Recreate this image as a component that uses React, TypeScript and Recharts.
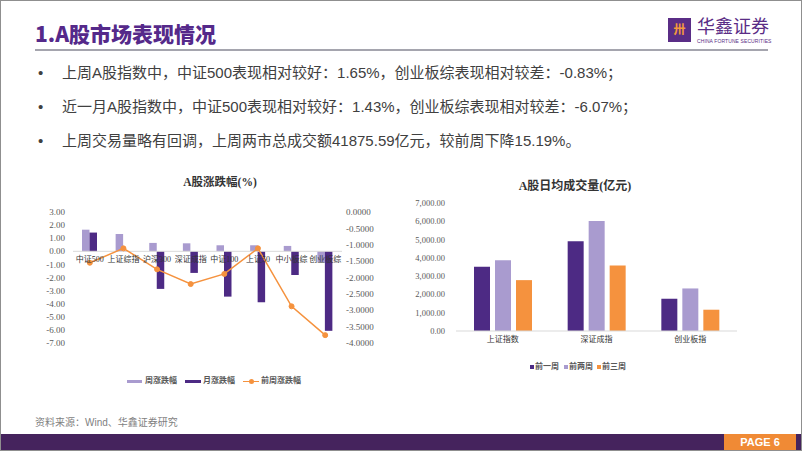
import React from 'react';
import { ComposedChart, BarChart, Bar, Line, XAxis, YAxis, ReferenceLine } from 'recharts';

// ---------- data ----------
const indexNames = ['中证500', '上证综指', '沪深300', '深证成指', '中证100', '上证50', '中小板综', '创业板综'];
const weekChange = [1.65, 1.32, 0.64, 0.61, 0.46, 0.46, 0.41, -0.83];
const monthChange = [1.43, 0.02, -2.87, -1.65, -3.46, -3.89, -1.81, -6.07];
const prevWeekChange = [-1.55, -1.11, -1.75, -2.2, -1.89, -1.11, -2.88, -3.76];
const leftSeriesNames = ['周涨跌幅', '月涨跌幅', '前周涨跌幅'];
const leftTicks = [3, 2, 1, 0, -1, -2, -3, -4, -5, -6, -7];
const rightTicksPct = [0, -0.5, -1, -1.5, -2, -2.5, -3, -3.5, -4];

const volumeIndexes = ['上证指数', '深证成指', '创业板指'];
const volWeek1 = [3508, 4909, 1764];
const volWeek2 = [3873, 6018, 2327];
const volWeek3 = [2782, 3582, 1164];
const volSeriesNames = ['前一周', '前两周', '前三周'];
const volTicks = [0, 1000, 2000, 3000, 4000, 5000, 6000, 7000];

const bullets = [
  '上周A股指数中，中证500表现相对较好：1.65%，创业板综表现相对较差：-0.83%；',
  '近一月A股指数中，中证500表现相对较好：1.43%，创业板综表现相对较差：-6.07%；',
  '上周交易量略有回调，上周两市总成交额41875.59亿元，较前周下降15.19%。',
];

// ---------- styles ----------
const LIGHT = '#A99BCF';
const DARK = '#4D2A84';
const ORANGE = '#F5923E';
const PURPLE = '#55298A';
const SERIF = '"Liberation Serif", "Noto Sans CJK SC", serif';
const SANS = '"Liberation Sans", "Noto Sans CJK SC", sans-serif';

const leftData = indexNames.map((name, i) => ({
  name,
  week: weekChange[i],
  month: monthChange[i],
  prevWeek: prevWeekChange[i],
}));

const volData = volumeIndexes.map((name, i) => ({
  name,
  w1: volWeek1[i],
  w2: volWeek2[i],
  w3: volWeek3[i],
}));

// left chart geometry
const L_W = 360;
const L_H = 155;
const L_MARGIN = { top: 12, right: 0, bottom: 0, left: 0 };
const L_XAXIS_H = 12;
const L_PLOT_H = L_H - L_MARGIN.top - L_MARGIN.bottom - L_XAXIS_H;
const L_MIN = -7;
const L_MAX = 3;

const ZeroTick = (props: any) => {
  const { x, y, payload } = props;
  const shift = (L_PLOT_H * (0 - L_MIN)) / (L_MAX - L_MIN);
  return (
    <text x={x} y={y - shift + 11} textAnchor="middle" fontSize={8} fill="#333" fontFamily={SERIF}>
      {payload.value}
    </text>
  );
};

const fmtThousands = (v: number) => {
  const s = Math.round(v).toString().replace(/\B(?=(\d{3})+(?!\d))/g, ',');
  return s + '.00';
};

const abs = (l: number, t: number, extra: React.CSSProperties = {}): React.CSSProperties => ({
  position: 'absolute',
  left: l,
  top: t,
  ...extra,
});

export default function App() {
  return (
    <div style={{ position: 'absolute', left: 0, top: 0, width: 802, height: 451, background: '#fff', overflow: 'hidden', fontFamily: SANS }}>
      {/* header */}
      <div style={abs(35, 19, { fontSize: 21, fontWeight: 900, color: PURPLE, lineHeight: '28px', whiteSpace: 'nowrap', fontFamily: '"Noto Sans CJK SC", sans-serif' })}>
        1.A股市场表现情况
      </div>
      <div style={abs(668, 18, { width: 23, height: 24, background: '#5A2D86', color: '#F39A3C', fontSize: 12, lineHeight: '24px', textAlign: 'center', fontWeight: 700 })}>卅</div>
      <div style={abs(697, 15, { fontSize: 18, color: '#5A2D86', lineHeight: '21px', whiteSpace: 'nowrap', fontFamily: '"Noto Sans CJK SC", sans-serif' })}>华鑫证券</div>
      <div style={abs(697, 38, { fontSize: 5, color: '#5A2D86', lineHeight: '6px', whiteSpace: 'nowrap', letterSpacing: 0.1 })}>CHINA FORTUNE SECURITIES</div>
      <div style={abs(35, 49, { width: 733, height: 2, background: '#A5A5AE' })} />

      {/* bullets */}
      {bullets.map((b, i) => (
        <div key={i} style={abs(38, 62 + i * 34, { fontSize: 15, lineHeight: '22px', color: '#404040', whiteSpace: 'nowrap' })}>
          <span style={{ display: 'inline-block', width: 24 }}>•</span>
          {b}
        </div>
      ))}

      {/* left chart */}
      <div style={abs(150, 174, { width: 140, textAlign: 'center', fontSize: 11.5, fontWeight: 700, color: '#333', fontFamily: SERIF, lineHeight: '16px' })}>
        A股涨跌幅(%)
      </div>
      <div style={abs(30, 200)}>
        <ComposedChart width={L_W} height={L_H} data={leftData} margin={L_MARGIN} barGap={0}>
          <XAxis
            dataKey="name"
            axisLine={false}
            tickLine={false}
            height={L_XAXIS_H}
            tickSize={0}
            tickMargin={0}
            interval={0}
            tick={<ZeroTick />}
          />
          <YAxis
            yAxisId="left"
            width={43}
            domain={[L_MIN, L_MAX]}
            ticks={leftTicks}
            axisLine={false}
            tickLine={false}
            tick={{ fontSize: 9, fill: '#595959', fontFamily: SERIF }}
            tickFormatter={(v: number) => v.toFixed(2)}
            interval={0}
          />
          <YAxis
            yAxisId="right"
            orientation="right"
            width={48}
            domain={[-4, 0]}
            ticks={rightTicksPct}
            axisLine={false}
            tickLine={false}
            tickSize={2}
            tickMargin={2}
            tick={{ fontSize: 9, fill: '#595959', fontFamily: SERIF }}
            tickFormatter={(v: number) => v.toFixed(4)}
            interval={0}
          />
          <ReferenceLine yAxisId="left" y={0} stroke="#D9D9D9" strokeWidth={1} />
          <Bar yAxisId="left" dataKey="week" name={leftSeriesNames[0]} fill={LIGHT} barSize={7.5} isAnimationActive={false} />
          <Bar yAxisId="left" dataKey="month" name={leftSeriesNames[1]} fill={DARK} barSize={7.5} isAnimationActive={false} />
          <Line
            yAxisId="right"
            dataKey="prevWeek"
            name={leftSeriesNames[2]}
            stroke={ORANGE}
            strokeWidth={1.5}
            dot={{ r: 2.5, fill: ORANGE, stroke: ORANGE, strokeWidth: 1 }}
            isAnimationActive={false}
          />
        </ComposedChart>
      </div>
      {/* left legend */}
      <div style={abs(127, 380, { width: 15, height: 3, background: LIGHT })} />
      <div style={abs(145, 375, { fontSize: 8, lineHeight: '12px', color: '#595959', fontWeight: 700, whiteSpace: 'nowrap' })}>{leftSeriesNames[0]}</div>
      <div style={abs(185, 380, { width: 16, height: 3, background: DARK })} />
      <div style={abs(203, 375, { fontSize: 8, lineHeight: '12px', color: '#595959', fontWeight: 700, whiteSpace: 'nowrap' })}>{leftSeriesNames[1]}</div>
      <div style={abs(243, 380.5, { width: 16, height: 1.5, background: ORANGE })} />
      <div style={abs(249, 379, { width: 5, height: 5, borderRadius: 3, background: ORANGE })} />
      <div style={abs(261, 375, { fontSize: 8, lineHeight: '12px', color: '#595959', fontWeight: 700, whiteSpace: 'nowrap' })}>{leftSeriesNames[2]}</div>

      {/* right chart */}
      <div style={abs(500, 178, { width: 150, textAlign: 'center', fontSize: 12, fontWeight: 700, color: '#333', fontFamily: SERIF, lineHeight: '16px', whiteSpace: 'nowrap' })}>
        A股日均成交量(亿元)
      </div>
      <div style={abs(400, 190)}>
        <BarChart width={350} height={160} data={volData} margin={{ top: 13, right: 13, bottom: 0, left: 0 }} barGap={5}>
          <XAxis
            dataKey="name"
            axisLine={{ stroke: '#D9D9D9' }}
            tickLine={false}
            height={19}
            tickSize={0}
            tickMargin={5}
            interval={0}
            tick={{ fontSize: 8, fill: '#333', fontFamily: SERIF }}
          />
          <YAxis
            width={56}
            domain={[0, 7000]}
            ticks={volTicks}
            axisLine={false}
            tickLine={false}
            tickMargin={5}
            tick={{ fontSize: 8.5, fill: '#595959', fontFamily: SERIF }}
            tickFormatter={fmtThousands}
            interval={0}
          />
          <Bar dataKey="w1" name={volSeriesNames[0]} fill={DARK} barSize={16} isAnimationActive={false} />
          <Bar dataKey="w2" name={volSeriesNames[1]} fill={LIGHT} barSize={16} isAnimationActive={false} />
          <Bar dataKey="w3" name={volSeriesNames[2]} fill={ORANGE} barSize={16} isAnimationActive={false} />
        </BarChart>
      </div>
      {/* right legend */}
      {[DARK, LIGHT, ORANGE].map((c, i) => (
        <React.Fragment key={i}>
          <div style={abs([530, 564, 597][i], 365, { width: 4, height: 4, background: c })} />
          <div style={abs([535, 569, 602][i], 361, { fontSize: 8, lineHeight: '12px', color: '#595959', fontWeight: 700, whiteSpace: 'nowrap' })}>
            {volSeriesNames[i]}
          </div>
        </React.Fragment>
      ))}

      {/* footer */}
      <div style={abs(35, 415, { fontSize: 10, lineHeight: '16px', color: '#7F7F7F', whiteSpace: 'nowrap' })}>资料来源：Wind、华鑫证券研究</div>
      <div style={abs(0, 434, { width: 802, height: 17, background: '#45235D' })} />
      <div style={abs(724, 434, { width: 72, height: 17, background: '#F08A35', color: '#fff', fontSize: 11, fontWeight: 700, lineHeight: '17px', textAlign: 'center', fontFamily: '"Liberation Sans Narrow", "Liberation Sans", sans-serif' })}>
        PAGE 6
      </div>
      {/* frame */}
      <div style={abs(0, 0, { width: 802, height: 451, boxSizing: 'border-box', border: '1px solid #8F8F8F', pointerEvents: 'none' })} />
    </div>
  );
}
